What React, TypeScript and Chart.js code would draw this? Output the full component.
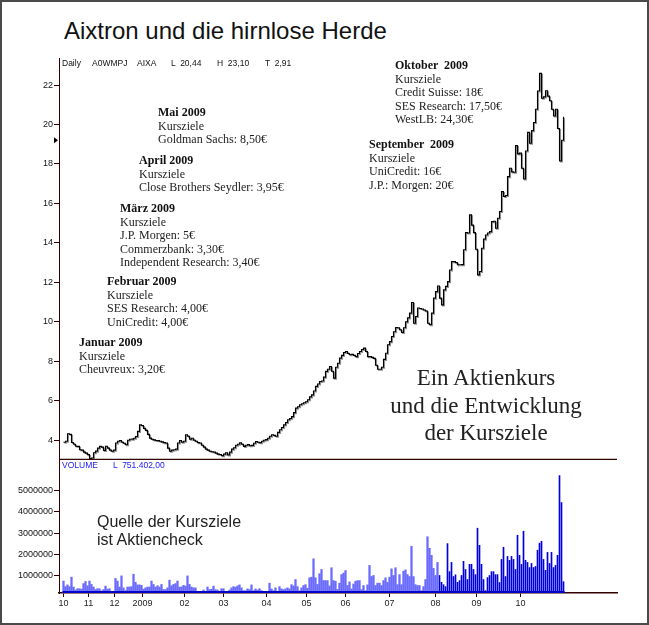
import React, { useEffect, useRef } from "react";
import { Chart, registerables } from "chart.js";
Chart.register(...registerables);

// ---------- DATA ----------
// daily close (EUR), one value per trading day, Oct 2008 .. end Oct 2009
const priceValues = [
  3.9, 3.95, 4.33, 4.3, 3.89, 3.8, 3.7, 3.69, 3.52, 3.5,
  3.4, 3.35, 3.27, 3.06, 3.1, 3.37, 3.45, 3.6, 3.69, 3.65,
  3.48, 3.7, 3.6, 3.5, 3.44, 3.5, 3.86, 3.95, 3.99, 3.9,
  3.85, 3.77, 4.0, 4.05, 4.06, 4.1, 4.19, 4.45, 4.78, 4.75,
  4.6, 4.5, 4.3, 4.11, 4.05, 4.02, 3.99, 3.98, 3.95, 3.92,
  3.88, 3.86, 3.6, 3.44, 3.5, 3.52, 3.55, 3.86, 3.99, 3.9,
  3.95, 4.28, 4.2, 4.05, 4.1, 4.0, 3.95, 3.88, 3.86, 3.75,
  3.65, 3.55, 3.5, 3.44, 3.42, 3.4, 3.35, 3.3, 3.28, 3.22,
  3.3, 3.37, 3.25, 3.4, 3.55, 3.62, 3.75, 3.8, 3.87, 3.8,
  3.69, 3.75, 3.78, 3.72, 3.74, 3.85, 3.94, 3.9, 3.88, 3.95,
  4.0, 4.03, 4.1, 4.2, 4.28, 4.25, 4.2, 4.4, 4.53, 4.65,
  4.78, 4.9, 5.04, 5.1, 5.2, 5.4, 5.63, 5.7, 5.8, 5.85,
  5.9, 5.95, 6.05, 6.2, 6.3, 6.5, 6.73, 6.85, 6.98, 7.0,
  7.2, 7.49, 7.6, 7.74, 7.5, 7.15, 7.7, 7.9, 8.16, 8.3,
  8.45, 8.5, 8.4, 8.33, 8.35, 8.3, 8.24, 8.4, 8.5, 8.6,
  8.67, 8.5, 8.24, 8.24, 8.2, 8.15, 7.8, 7.6, 7.6, 7.7,
  8.1, 8.41, 8.84, 9.0, 9.26, 9.5, 9.71, 9.7, 9.6, 9.46,
  9.7, 10.0, 10.2, 10.44, 10.98, 9.93, 10.27, 10.7, 10.68, 10.65,
  10.6, 10.55, 9.93, 9.85, 10.44, 11.2, 11.53, 11.82, 11.2, 10.86,
  11.62, 11.8, 12.04, 12.63, 13.05, 13.05, 13.0, 12.89, 12.89, 12.9,
  13.65, 14.52, 14.5, 15.42, 14.9, 14.52, 13.68, 12.38, 12.55, 13.73,
  14.19, 14.4, 14.5, 14.57, 15.08, 15.1, 14.74, 15.25, 15.59, 16.6,
  16.35, 16.4, 17.36, 17.78, 17.6, 17.58, 18.93, 18.51, 18.55, 17.78,
  17.24, 18.66, 19.6, 19.05, 19.69, 20.1, 20.77, 21.7, 22.59, 21.33,
  21.4, 21.71, 21.44, 21.2, 20.77, 20.43, 20.77, 19.8, 18.15, 19.2,
  20.39,
];

// daily volume in millions of shares
const volumeValues = [
  0.76, 0.5, 0.58, 0.5, 0.94, 0.48, 0.34, 0.4, 0.4, 0.38,
  0.64, 0.74, 0.54, 0.76, 0.6, 0.48, 0.36, 0.4, 0.4, 0.3,
  0.36, 0.52, 0.38, 0.4, 0.28, 0.28, 0.88, 0.76, 0.48, 1.0,
  0.44, 0.32, 0.48, 0.48, 0.5, 1.08, 0.7, 0.58, 0.58, 0.56,
  0.38, 0.44, 0.48, 0.48, 0.76, 0.6, 0.48, 0.54, 0.48, 0.6,
  0.36, 0.36, 0.44, 0.8, 0.54, 0.6, 0.64, 0.76, 0.48, 0.48,
  0.56, 0.52, 1.0, 0.6, 0.48, 0.44, 0.44, 0.1, 0.1, 0.1,
  0.34, 0.1, 0.48, 0.36, 0.38, 0.52, 0.36, 0.34, 0.1, 0.4,
  0.4, 0.28, 0.28, 0.34, 0.44, 0.5, 0.47, 0.53, 0.58, 0.44,
  0.31, 0.31, 0.39, 0.36, 0.58, 0.31, 0.39, 0.34, 0.4, 0.31,
  0.28, 0.1, 0.1, 0.66, 0.39, 0.31, 0.44, 0.28, 0.5, 0.39,
  0.36, 0.39, 0.44, 0.39, 0.59, 0.53, 0.83, 0.5, 0.31, 0.44,
  0.55, 0.59, 0.42, 0.91, 0.94, 1.8, 0.91, 0.6, 1.1, 1.3,
  0.78, 0.78, 0.78, 0.53, 1.38, 0.78, 0.75, 0.37, 0.66, 1.06,
  1.13, 1.25, 0.55, 0.72, 0.39, 0.62, 0.75, 0.78, 0.78, 0.36,
  0.55, 0.31, 0.58, 1.49, 0.97, 1.02, 0.55, 0.66, 0.66, 0.55,
  0.78, 0.91, 0.7, 0.94, 1.33, 1.02, 1.38, 0.59, 1.06, 0.59,
  1.22, 1.28, 1.06, 0.97, 2.38, 0.97, 0.59, 0.55, 0.55, 0.31,
  0.5, 0.83, 2.83, 2.29, 1.96, 1.35, 1.02, 1.63, 1.02, 0.7,
  0.59, 0.5, 2.51, 1.2, 1.63, 0.97, 1.05, 0.7, 0.78, 1.02,
  1.68, 1.3, 0.83, 1.54, 1.54, 1.3, 1.06, 3.23, 2.43, 1.54,
  0.83, 0.31, 0.92, 1.02, 1.2, 1.2, 1.06, 1.06, 0.69, 1.77,
  2.34, 0.97, 1.91, 1.73, 1.91, 1.77, 1.3, 2.9, 1.96, 1.54,
  3.09, 1.73, 1.63, 1.39, 1.58, 1.39, 1.44, 2.2, 2.53, 2.62,
  1.77, 1.26, 2.1, 1.58, 2.1, 1.39, 1.49, 1.96, 5.69, 4.43,
  0.73,
];

// month starts (trading-day index) and their labels
const monthTickIdx = [0, 12.5, 25.5, 39.5, 60.5, 80, 101.5, 121.5, 141, 163, 186, 206.5, 228.5];
const monthLabels = ["10", "11", "12", "2009", "02", "03", "04", "05", "06", "07", "08", "09", "10"];

const priceTicks = [4, 6, 8, 10, 12, 14, 16, 18, 20, 22];
const volumeTicks = [1, 2, 3, 4, 5];
const volumeTickLabels = ["1000000", "2000000", "3000000", "4000000", "5000000"];

const lastPriceMarker = 19.2;

// ---------- STYLE CONSTANTS ----------
const PRICE_MIN = 3;
const PRICE_MAX = 23.37;
const VOL_MIN = 0.2;
const VOL_MAX = 6.42;
const X_MIN = -2.25;
const X_MAX = 276.75;
const AXIS = "#330000";
const SANS = '"Liberation Sans", Arial, Helvetica, sans-serif';
const SERIF = '"Liberation Serif", "Times New Roman", Times, serif';
const DARK_FROM = 188;

const fixY = (s: any) => {
  s.width = 59;
  s.paddingTop = 0;
  s.paddingBottom = 0;
};

export default function App() {
  const priceRef = useRef<HTMLCanvasElement>(null);
  const volRef = useRef<HTMLCanvasElement>(null);

  useEffect(() => {
    const decor = {
      id: "decor",
      beforeDatasetsDraw(chart: any) {
        const { ctx } = chart;
        ctx.save();
        ctx.shadowColor = "rgba(120,120,120,0.8)";
        ctx.shadowOffsetX = 1;
        ctx.shadowOffsetY = 1;
        ctx.shadowBlur = 0;
      },
      afterDatasetsDraw(chart: any) {
        chart.ctx.restore();
      },
      afterDraw(chart: any) {
        const { ctx, chartArea } = chart;
        ctx.save();
        ctx.strokeStyle = AXIS;
        ctx.lineWidth = 1.5;
        ctx.beginPath();
        ctx.moveTo(chartArea.left, chartArea.bottom - 0.5);
        ctx.lineTo(chartArea.right, chartArea.bottom - 0.5);
        ctx.stroke();
        const y = chart.scales.y.getPixelForValue(lastPriceMarker);
        ctx.fillStyle = "#000";
        ctx.beginPath();
        ctx.moveTo(chartArea.left - 5, y - 3);
        ctx.lineTo(chartArea.left - 1, y);
        ctx.lineTo(chartArea.left - 5, y + 3);
        ctx.closePath();
        ctx.fill();
        ctx.restore();
      },
    };

    const price = new Chart(priceRef.current as HTMLCanvasElement, {
      type: "line",
      data: {
        datasets: [
          {
            data: priceValues.map((y, i) => ({ x: i, y })),
            borderColor: "#000",
            borderWidth: 1.1,
            pointRadius: 0,
            stepped: true,
            fill: false,
          },
        ],
      },
      options: {
        animation: false,
        responsive: false,
        layout: { padding: { top: 8, right: 32, bottom: 0, left: 0 } },
        plugins: { legend: { display: false }, tooltip: { enabled: false } },
        scales: {
          x: { type: "linear", display: false, min: X_MIN, max: X_MAX },
          y: {
            type: "linear",
            min: PRICE_MIN,
            max: PRICE_MAX,
            afterBuildTicks: (s: any) => {
              s.ticks = priceTicks.map((v) => ({ value: v }));
            },
            afterFit: fixY,
            grid: { drawOnChartArea: false, drawTicks: true, tickLength: 5, color: AXIS },
            border: { color: AXIS, width: 1 },
            ticks: {
              font: { family: SANS, size: 9 },
              color: "#111",
              padding: 1,
              callback: (v: any) => String(v),
            },
          },
        },
      },
      plugins: [decor],
    } as any);

    const baseLine = {
      id: "baseLine",
      afterDatasetsDraw(chart: any) {
        const { ctx, chartArea, scales } = chart;
        const x0 = scales.x.getPixelForValue(0);
        const x1 = scales.x.getPixelForValue(volumeValues.length - 1);
        ctx.save();
        ctx.strokeStyle = "#0000cc";
        ctx.lineWidth = 2;
        ctx.beginPath();
        ctx.moveTo(x0 - 1, chartArea.bottom - 1);
        ctx.lineTo(x1 + 1, chartArea.bottom - 1);
        ctx.stroke();
        ctx.restore();
      },
    };

    const vol = new Chart(volRef.current as HTMLCanvasElement, {
      type: "bar",
      data: {
        datasets: [
          {
            data: volumeValues.map((y, i) => ({ x: i, y: i < DARK_FROM ? y : null })),
            backgroundColor: "#6a6aff",
            barThickness: 1.6,
            grouped: false,
            base: VOL_MIN,
            borderWidth: 0,
          },
          {
            data: volumeValues.map((y, i) => ({ x: i, y: i >= DARK_FROM ? y : null })),
            backgroundColor: "#0000e0",
            barThickness: 1,
            grouped: false,
            base: VOL_MIN,
            borderWidth: 0,
          },
        ],
      },
      options: {
        animation: false,
        responsive: false,
        layout: { padding: { top: 0, right: 32, bottom: 0, left: 0 } },
        plugins: { legend: { display: false }, tooltip: { enabled: false } },
        scales: {
          x: {
            type: "linear",
            min: X_MIN,
            max: X_MAX,
            offset: false,
            afterBuildTicks: (s: any) => {
              s.ticks = monthTickIdx.map((v) => ({ value: v }));
            },
            afterFit: (s: any) => {
              s.height = 22;
              s.paddingLeft = 0;
              s.paddingRight = 0;
            },
            grid: { drawOnChartArea: false, drawTicks: true, tickLength: 4, color: AXIS, offset: false },
            border: { color: AXIS, width: 1.5 },
            ticks: {
              autoSkip: false,
              maxRotation: 0,
              minRotation: 0,
              padding: 1,
              font: { family: SANS, size: 9 },
              color: "#222",
              callback: (_v: any, i: number) => monthLabels[i],
            },
          },
          y: {
            type: "linear",
            min: VOL_MIN,
            max: VOL_MAX,
            afterBuildTicks: (s: any) => {
              s.ticks = volumeTicks.map((v) => ({ value: v }));
            },
            afterFit: fixY,
            grid: { drawOnChartArea: false, drawTicks: true, tickLength: 5, color: AXIS },
            border: { color: AXIS, width: 1 },
            ticks: {
              font: { family: SANS, size: 9 },
              color: "#111",
              padding: 1,
              callback: (_v: any, i: number) => volumeTickLabels[i],
            },
          },
        },
      },
      plugins: [baseLine],
    } as any);

    return () => {
      price.destroy();
      vol.destroy();
    };
  }, []);

  const LH = 13.4;
  const block = (left: number, center: number, title: string, lines: string[]) => (
    <div
      style={{
        position: "absolute",
        left,
        top: center - LH / 2,
        fontFamily: SERIF,
        fontSize: 12,
        lineHeight: `${LH}px`,
        color: "#222",
        whiteSpace: "pre",
        zIndex: 3,
      }}
    >
      <div style={{ fontWeight: "bold", color: "#111" }}>{title}</div>
      {lines.map((l, i) => (
        <div key={i}>{l}</div>
      ))}
    </div>
  );

  const hdr = (left: number, text: string, color: string, top: number) => (
    <div
      style={{
        position: "absolute",
        left,
        top,
        fontFamily: SANS,
        fontSize: 8.5,
        lineHeight: "10px",
        color,
        whiteSpace: "pre",
        zIndex: 3,
      }}
    >
      {text}
    </div>
  );

  return (
    <div
      style={{
        position: "fixed",
        left: 0,
        top: 0,
        width: 649,
        height: 625,
        background: "#fff",
        overflow: "hidden",
      }}
    >
      <canvas ref={priceRef} width={649} height={410} style={{ position: "absolute", left: 0, top: 50, width: 649, height: 410 }} />
      <canvas ref={volRef} width={649} height={155} style={{ position: "absolute", left: 0, top: 460, width: 649, height: 155 }} />

      <div
        style={{
          position: "absolute",
          left: 64,
          top: 19,
          fontFamily: SANS,
          fontSize: 24,
          lineHeight: "24px",
          color: "#111",
          whiteSpace: "pre",
          zIndex: 3,
        }}
      >
        Aixtron und die hirnlose Herde
      </div>

      {hdr(62, "Daily", "#111", 58)}
      {hdr(92, "A0WMPJ", "#111", 58)}
      {hdr(137, "AIXA", "#111", 58)}
      {hdr(171, "L  20,44", "#111", 58)}
      {hdr(217, "H  23,10", "#111", 58)}
      {hdr(265, "T  2,91", "#111", 58)}

      {hdr(62, "VOLUME", "#2020ff", 460)}
      {hdr(113, "L  751.402,00", "#2020ff", 460)}

      {block(395, 66, "Oktober  2009", ["Kursziele", "Credit Suisse: 18€", "SES Research: 17,50€", "WestLB: 24,30€"])}
      {block(158, 113, "Mai 2009", ["Kursziele", "Goldman Sachs: 8,50€"])}
      {block(139, 161, "April 2009", ["Kursziele", "Close Brothers Seydler: 3,95€"])}
      {block(120, 209, "März 2009", ["Kursziele", "J.P. Morgen: 5€", "Commerzbank: 3,30€", "Independent Research: 3,40€"])}
      {block(107, 282, "Februar 2009", ["Kursziele", "SES Research: 4,00€", "UniCredit: 4,00€"])}
      {block(79, 343, "Januar 2009", ["Kursziele", "Cheuvreux: 3,20€"])}
      {block(369, 145, "September  2009", ["Kursziele", "UniCredit: 16€", "J.P.: Morgen: 20€"])}

      <div
        style={{
          position: "absolute",
          left: 386,
          width: 200,
          top: 364,
          textAlign: "center",
          fontFamily: SERIF,
          fontSize: 23,
          lineHeight: "27.5px",
          color: "#222",
          zIndex: 3,
        }}
      >
        <div>Ein Aktienkurs</div>
        <div>und die Entwicklung</div>
        <div>der Kursziele</div>
      </div>

      <div
        style={{
          position: "absolute",
          left: 97,
          top: 513,
          fontFamily: SANS,
          fontSize: 16,
          lineHeight: "18px",
          color: "#222",
          zIndex: 3,
        }}
      >
        <div>Quelle der Kursziele</div>
        <div>ist Aktiencheck</div>
      </div>

      <div
        style={{
          position: "absolute",
          left: 0,
          top: 0,
          width: 649,
          height: 625,
          border: "2px solid #4a4a4a",
          boxSizing: "border-box",
          zIndex: 5,
          pointerEvents: "none",
        }}
      />
    </div>
  );
}
